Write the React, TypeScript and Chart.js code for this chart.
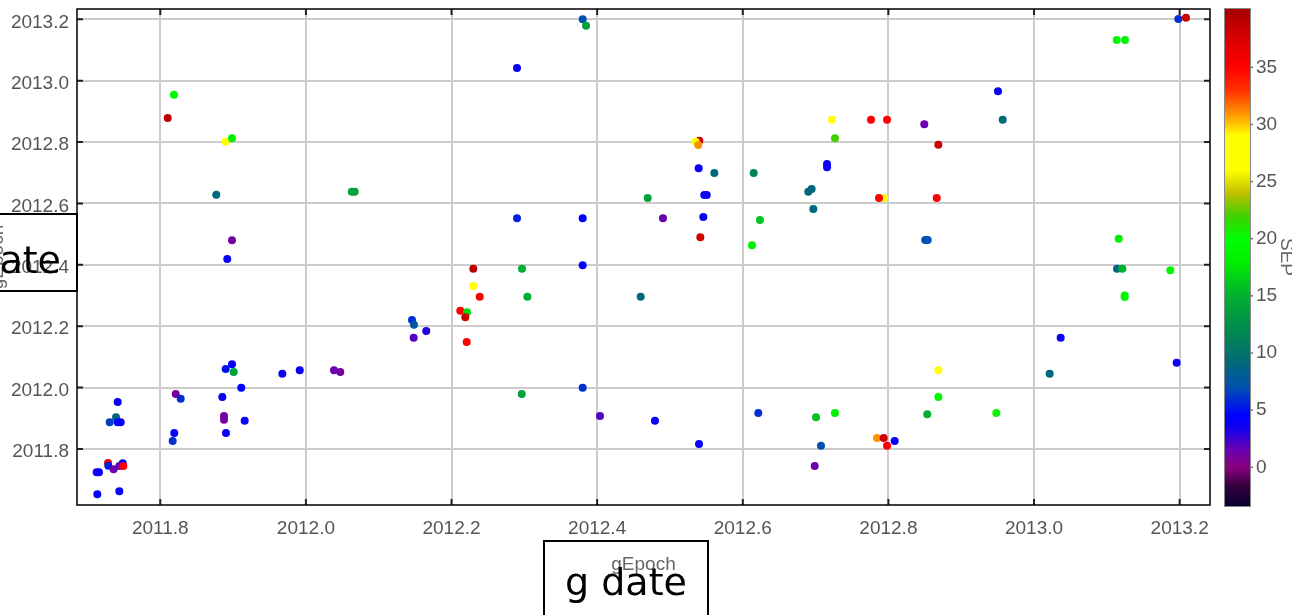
import React, { useEffect, useRef } from 'react';
import { Chart, registerables } from 'chart.js';

Chart.register(...registerables);

// ---- data ----
const gEpoch = [
  2011.8188, 2011.8102, 2011.8898, 2011.8985, 2011.8769, 2012.063, 2012.067, 2011.8985, 2011.892, 2011.8985,
  2011.8898, 2011.9008, 2011.9676, 2011.9915, 2012.0386, 2012.0472, 2011.8212, 2011.828, 2011.8852, 2011.9112,
  2011.8875, 2011.8875, 2011.9159, 2011.8902, 2011.8192, 2011.817, 2011.7415, 2011.7392, 2011.7305, 2011.7415,
  2011.7456, 2011.7282, 2011.7286, 2011.7358, 2011.7437, 2011.7484, 2011.7492, 2011.7126, 2011.7158, 2011.7135,
  2011.7437, 2012.3801, 2012.3847, 2012.2899, 2012.4694, 2012.2899, 2012.3801, 2012.3801, 2012.2299, 2012.2968,
  2012.2299, 2012.2387, 2012.3042, 2012.4598, 2012.212, 2012.2212, 2012.2189, 2012.2208, 2012.1457, 2012.1484,
  2012.1653, 2012.148, 2012.2964, 2012.3801, 2012.4039, 2012.5403, 2012.5353, 2012.5389, 2012.5394, 2012.5609,
  2012.615, 2012.5471, 2012.5505, 2012.4904, 2012.5458, 2012.5417, 2012.6236, 2012.6127, 2012.69, 2012.6946,
  2012.6969, 2012.7157, 2012.7157, 2012.7225, 2012.7266, 2012.7761, 2012.7981, 2012.8493, 2012.794, 2012.7871,
  2012.8505, 2012.854, 2012.4794, 2012.5399, 2012.6213, 2012.7006, 2012.7266, 2012.7074, 2012.6988, 2012.7843,
  2012.7935, 2012.7981, 2012.8086, 2012.8534, 2012.8686, 2012.8664, 2012.9505, 2012.957, 2012.8686, 2012.8686,
  2012.9482, 2013.0366, 2013.0215, 2013.1136, 2013.125, 2013.1982, 2013.2087, 2013.1163, 2013.114, 2013.1213,
  2013.1872, 2013.1245, 2013.1245, 2013.1959,
];
const yEpoch = [
  2012.9545, 2012.8785, 2012.8013, 2012.8124, 2012.6286, 2012.6384, 2012.6384, 2012.48, 2012.419, 2012.076,
  2012.0607, 2012.0509, 2012.0454, 2012.0564, 2012.0564, 2012.0509, 2011.9792, 2011.9639, 2011.9694, 2011.9998,
  2011.9075, 2011.8955, 2011.8922, 2011.8521, 2011.8521, 2011.8261, 2011.9531, 2011.9033, 2011.887, 2011.887,
  2011.887, 2011.7544, 2011.7456, 2011.7339, 2011.7446, 2011.7534, 2011.7446, 2011.7241, 2011.7241, 2011.6524,
  2011.6622, 2013.2001, 2013.1793, 2013.0414, 2012.6178, 2012.5517, 2012.5517, 2012.3986, 2012.3875, 2012.3875,
  2012.3311, 2012.2963, 2012.2963, 2012.2963, 2012.2506, 2012.2454, 2012.2291, 2012.1486, 2012.2203, 2012.205,
  2012.1845, 2012.1627, 2011.9792, 2011.9998, 2011.9075, 2012.8046, 2012.8013, 2012.7906, 2012.7146, 2012.6993,
  2012.6993, 2012.6276, 2012.6276, 2012.5517, 2012.556, 2012.4898, 2012.5462, 2012.4637, 2012.6384, 2012.6472,
  2012.582, 2012.7285, 2012.7176, 2012.873, 2012.8124, 2012.873, 2012.873, 2012.858, 2012.6178, 2012.6178,
  2012.481, 2012.481, 2011.8922, 2011.8163, 2011.9173, 2011.9033, 2011.9173, 2011.8108, 2011.7446, 2011.8358,
  2011.8358, 2011.8108, 2011.8261, 2011.9131, 2012.7915, 2012.6178, 2012.9655, 2012.873, 2012.0564, 2011.9694,
  2011.9173, 2012.1627, 2012.0454, 2013.1327, 2013.1327, 2013.2011, 2013.2054, 2012.4852, 2012.3875, 2012.3875,
  2012.3823, 2012.3, 2012.2948, 2012.0812,
];
const sepValues = [
  19, 39, 28, 18, 9, 14, 14, 1, 4, 4,
  5, 14, 4, 4, 1.5, 1, 1, 6, 4, 4.5,
  1, 1, 4, 4, 4.5, 6, 4, 9, 6.5, 4.5,
  4, 36, 5.5, 1.5, 1.5, 5, 35, 4, 4, 4,
  4, 7, 14, 4, 14, 5.5, 4.5, 4.5, 39, 15,
  28, 35, 15, 9, 35, 17, 38, 35, 6, 7.5,
  3, 2, 14, 6, 2, 38, 28, 31, 4, 9,
  11.5, 4, 4, 1.5, 4, 38, 16, 18, 9, 9,
  9, 4, 4, 26.5, 22, 35, 35, 1.5, 28, 35,
  7, 7, 4, 4, 6, 16, 18, 7, 1.5, 31,
  38, 35, 4, 15, 38, 35, 4, 9, 28, 19,
  20.5, 4, 9, 19, 19, 6, 38, 18, 9, 15,
  19, 19, 19, 4,
];

const xTicks = [2011.8, 2012.0, 2012.2, 2012.4, 2012.6, 2012.8, 2013.0, 2013.2];
const yTicks = [2011.8, 2012.0, 2012.2, 2012.4, 2012.6, 2012.8, 2013.0, 2013.2];
const sepTicks = [0, 5, 10, 15, 20, 25, 30, 35];

const xMin = 2011.6856;
const xMax = 2013.2417;
const yMin = 2011.6174;
const yMax = 2013.2336;
const sepMin = -3.3;
const sepMax = 40.1;

// colour map for SEP
const mapValues = [-3.3, -1.5, 0, 1.5, 3.5, 4.5, 7, 9.5, 12, 15, 18, 20, 22, 24, 26, 29, 31, 33, 35, 37, 40.1];
const mapColors = [
  '#0a0030', '#3a0040', '#8a0080', '#6a00b0', '#1000f0', '#0000ff', '#0050b0', '#006e70', '#008a50', '#00b030',
  '#00f000', '#00ff00', '#40d000', '#c0c000', '#ffff00', '#ffff00', '#ff9000', '#ff3000', '#ff0000', '#e00000', '#a80000',
];

function hexToRgb(h: string) {
  return [parseInt(h.slice(1, 3), 16), parseInt(h.slice(3, 5), 16), parseInt(h.slice(5, 7), 16)];
}
function colorFor(v: number) {
  if (v <= mapValues[0]) return mapColors[0];
  for (let i = 1; i < mapValues.length; i++) {
    if (v <= mapValues[i]) {
      const t = (v - mapValues[i - 1]) / (mapValues[i] - mapValues[i - 1]);
      const a = hexToRgb(mapColors[i - 1]);
      const b = hexToRgb(mapColors[i]);
      const c = a.map((x, k) => Math.round(x + (b[k] - x) * t));
      return `rgb(${c[0]},${c[1]},${c[2]})`;
    }
  }
  return mapColors[mapColors.length - 1];
}

const FONT = { family: '"Liberation Sans", Arial, sans-serif', size: 19 };
const LABEL_COLOR = '#555';

const framePlugin = {
  id: 'frameAndColorbar',
  afterDraw(chart: any) {
    const { ctx, chartArea: a, scales } = chart;
    ctx.save();
    // colour bar
    const sep = scales.sep;
    const bx = sep.left + 15;
    const bw = 25;
    const yTop = sep.getPixelForValue(sepMax);
    const yBot = sep.getPixelForValue(sepMin);
    const grad = ctx.createLinearGradient(0, yBot, 0, yTop);
    mapValues.forEach((v, i) => {
      grad.addColorStop(Math.min(1, Math.max(0, (v - sepMin) / (sepMax - sepMin))), mapColors[i]);
    });
    ctx.fillStyle = grad;
    ctx.fillRect(bx, yTop, bw, yBot - yTop + 1);
    ctx.strokeStyle = '#8a8a8a';
    ctx.lineWidth = 1;
    ctx.strokeRect(bx - 0.5, yTop - 0.5, bw + 1, yBot - yTop + 2);
    ctx.strokeStyle = '#777';
    ctx.lineWidth = 1.5;
    sep.ticks.forEach((t: any) => {
      const py = sep.getPixelForValue(t.value);
      ctx.beginPath();
      ctx.moveTo(bx + bw, py);
      ctx.lineTo(bx + bw + 3, py);
      ctx.stroke();
    });

    // inward tick marks
    ctx.strokeStyle = '#222';
    ctx.lineWidth = 2;
    scales.x.ticks.forEach((t: any) => {
      const px = scales.x.getPixelForValue(t.value);
      ctx.beginPath();
      ctx.moveTo(px, a.top);
      ctx.lineTo(px, a.top + 6);
      ctx.moveTo(px, a.bottom);
      ctx.lineTo(px, a.bottom - 6);
      ctx.stroke();
    });
    scales.y.ticks.forEach((t: any) => {
      const py = scales.y.getPixelForValue(t.value);
      ctx.beginPath();
      ctx.moveTo(a.left, py);
      ctx.lineTo(a.left + 6, py);
      ctx.moveTo(a.right, py);
      ctx.lineTo(a.right - 6, py);
      ctx.stroke();
    });
    // frame
    ctx.strokeStyle = '#000';
    ctx.lineWidth = 1.5;
    ctx.strokeRect(a.left, a.top, a.right - a.left, a.bottom - a.top);
    ctx.restore();
  },
};

function fixWidth(w: number) {
  return (scale: any) => {
    scale.width = w;
    scale.paddingTop = 0;
    scale.paddingBottom = 0;
    scale.paddingLeft = 0;
    scale.paddingRight = 0;
  };
}

export default function App() {
  const ref = useRef<HTMLCanvasElement | null>(null);

  useEffect(() => {
    if (!ref.current) return;
    const points = gEpoch.map((x, i) => ({ x, y: yEpoch[i] }));
    const chart = new Chart(ref.current, {
      type: 'scatter',
      data: {
        datasets: [
          {
            data: points,
            backgroundColor: sepValues.map(colorFor),
            pointRadius: 4,
            pointBorderWidth: 0,
            borderWidth: 0,
            yAxisID: 'y',
          },
        ],
      },
      options: {
        animation: false,
        responsive: false,
        devicePixelRatio: 1,
        layout: { padding: { top: 9, left: 0, right: 0, bottom: 0 } },
        plugins: { legend: { display: false }, tooltip: { enabled: false } },
        scales: {
          x: {
            type: 'linear',
            position: 'bottom',
            min: xMin,
            max: xMax,
            afterBuildTicks: (s: any) => {
              s.ticks = xTicks.map((value) => ({ value }));
            },
            afterFit: (s: any) => {
              s.height = 110;
              s.paddingLeft = 0;
              s.paddingRight = 0;
            },
            grid: { color: '#cccccc', lineWidth: 2, drawTicks: false },
            border: { display: false },
            ticks: {
              autoSkip: false,
              maxRotation: 0,
              padding: 12,
              color: LABEL_COLOR,
              font: FONT,
              callback: (v: any) => Number(v).toFixed(1),
            },
            title: { display: true, text: 'gEpoch', color: '#666', font: FONT, padding: { top: 0, bottom: 39 } },
          },
          y: {
            type: 'linear',
            position: 'left',
            min: yMin,
            max: yMax,
            afterBuildTicks: (s: any) => {
              s.ticks = yTicks.map((value) => ({ value }));
            },
            afterFit: fixWidth(91),
            grid: { color: '#cccccc', lineWidth: 2, drawTicks: false },
            border: { display: false },
            ticks: {
              autoSkip: false,
              padding: 8,
              labelOffset: 3,
              color: LABEL_COLOR,
              font: FONT,
              callback: (v: any) => Number(v).toFixed(1),
            },
            title: { display: true, text: 'gEpoch', color: '#666', font: FONT, padding: { top: 0, bottom: 0 } },
          },
          sep: {
            type: 'linear',
            position: 'right',
            min: sepMin,
            max: sepMax,
            afterBuildTicks: (s: any) => {
              s.ticks = sepTicks.map((value) => ({ value }));
            },
            afterFit: fixWidth(92),
            grid: { display: false, drawTicks: false },
            border: { display: false },
            ticks: {
              autoSkip: false,
              padding: 46,
              color: LABEL_COLOR,
              font: FONT,
              callback: (v: any) => String(v),
            },
            title: { display: true, text: 'SEP', color: '#666', font: FONT, padding: { top: 4, bottom: 0 } },
          },
        },
      },
      plugins: [framePlugin],
    } as any);
    return () => chart.destroy();
  }, []);

  const boxText: React.CSSProperties = {
    position: 'absolute',
    fontFamily: '"DejaVu Sans", sans-serif',
    fontSize: 38,
    lineHeight: '38px',
    color: '#000',
    whiteSpace: 'nowrap',
  };

  return (
    <div style={{ position: 'absolute', left: 0, top: 0, width: 1292, height: 615, overflow: 'hidden', background: '#fff' }}>
      <canvas ref={ref} width={1316} height={615} style={{ position: 'absolute', left: -14, top: 0, width: 1316, height: 615 }} />
      <div style={{ position: 'absolute', left: -100, top: 213, width: 174, height: 75, border: '2px solid #000' }} />
      <div style={{ ...boxText, left: -200, top: 241, width: 261, textAlign: 'right' }}>g date</div>
      <div style={{ position: 'absolute', left: 543, top: 540, width: 162, height: 100, border: '2px solid #000' }} />
      <div style={{ ...boxText, left: 543, top: 563, width: 166, textAlign: 'center' }}>g date</div>
    </div>
  );
}
